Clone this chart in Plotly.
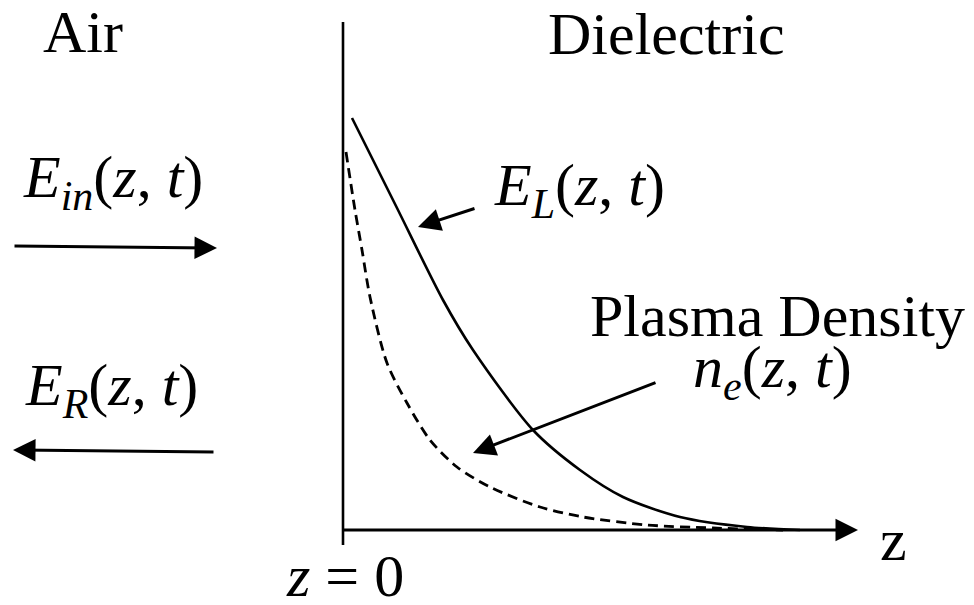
import plotly.graph_objects as go

# E_L(z,t): laser field decaying into the dielectric (arbitrary units)
z_field = [0.09, 0.54, 1.00, 1.30, 1.90, 2.37, 2.80, 3.37, 4.04, 4.57]
E_field = [4.12, 3.22, 2.30, 1.80, 1.00, 0.60, 0.33, 0.13, 0.03, 0.00]

# n_e(z,t): plasma density, decays faster
z_dens = [0.03, 0.12, 0.19, 0.27, 0.44, 0.64, 0.87, 1.14, 1.47, 1.97, 2.40, 3.04, 3.70, 4.40]
n_dens = [3.78, 3.20, 2.80, 2.33, 1.67, 1.27, 0.90, 0.63, 0.43, 0.23, 0.13, 0.05, 0.02, 0.00]

W, H = 974, 605
SERIF = "Liberation Serif"


def px(x):
    return x / W


def py(y):
    return 1 - y / H


fig = go.Figure()

fig.add_trace(go.Scatter(x=z_field, y=E_field, mode="lines",
                         line=dict(color="black", width=2.6, shape="spline", smoothing=0.8),
                         hoverinfo="skip"))
fig.add_trace(go.Scatter(x=z_dens, y=n_dens, mode="lines",
                         line=dict(color="black", width=2.8, shape="spline", smoothing=0.8,
                                   dash="10px,6px"),
                         hoverinfo="skip"))

# vertical interface line at z = 0
fig.add_shape(type="line", xref="paper", yref="paper",
              x0=px(343), y0=py(545), x1=px(343), y1=py(22),
              line=dict(color="black", width=2.6))

arrows = [
    # (head x, head y, tail dx, tail dy)
    (858, 530, -517, 0),   # z axis
    (217, 248, -204, -2),  # incident
    (13, 450, 202, 2),     # reflected
    (418, 227, 58, -19),   # E_L pointer
    (473, 453, 184, -71),  # n_e pointer
]
for hx, hy, dx, dy in arrows:
    fig.add_annotation(x=px(hx), y=py(hy), xref="paper", yref="paper",
                       ax=dx, ay=dy, text="", showarrow=True,
                       arrowhead=2, arrowsize=1.5, arrowwidth=3,
                       arrowcolor="black")

labels = [
    ("Air", 83, 32),
    ("Dielectric", 666, 34),
    ("<i>E</i><sub><i>in</i></sub>(<i>z</i>, <i>t</i>)", 113, 181),
    ("<i>E</i><sub><i>R</i></sub>(<i>z</i>, <i>t</i>)", 111, 389),
    ("<i>E</i><sub><i>L</i></sub>(<i>z</i>, <i>t</i>)", 579, 189),
    ("Plasma Density", 777, 316),
    ("<i>n</i><sub><i>e</i></sub>(<i>z</i>, <i>t</i>)", 772, 371),
    ("<i>z</i> = 0", 345, 576),
    ("z", 893, 540),
]
for txt, x, y in labels:
    fig.add_annotation(x=px(x), y=py(y), xref="paper", yref="paper",
                       text=txt, showarrow=False, xanchor="center", yanchor="middle",
                       font=dict(family=SERIF, size=60, color="black"))

fig.update_layout(
    width=W, height=H, autosize=False,
    margin=dict(l=0, r=0, t=0, b=0),
    showlegend=False,
    paper_bgcolor="white", plot_bgcolor="white",
    xaxis=dict(visible=False, range=[-3.43, 6.31], fixedrange=True),
    yaxis=dict(visible=False, range=[-0.75, 5.30], fixedrange=True),
)

# drop the browser's default 8px body margin so the figure fills the window
fig.write_html("out.html", config={"displayModeBar": False},
               post_script="document.body.style.margin='0';")
